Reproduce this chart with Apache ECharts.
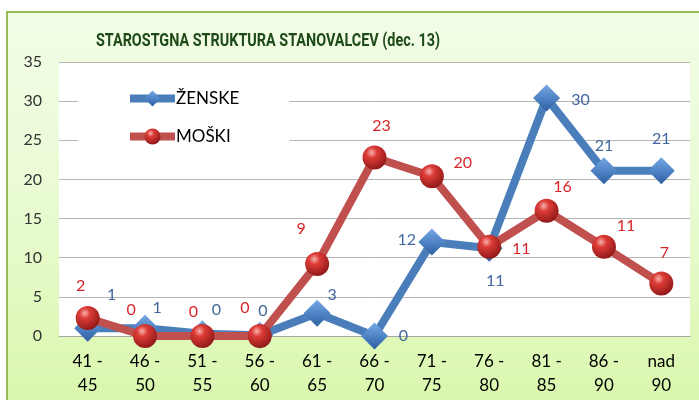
<!DOCTYPE html>
<html>
<head>
<meta charset="utf-8">
<script src="https://cdn.jsdelivr.net/npm/echarts@6/dist/echarts.min.js"></script>
<style>
  html, body { margin: 0; padding: 0; background: #fff; overflow: hidden; }
  #frame {
    position: absolute; left: 6px; top: 11px; width: 720px; height: 420px;
    border: 2px solid #9bbb59; box-sizing: border-box;
    background: linear-gradient(to bottom, #f2fde6 0%, #eafbd6 40%, #d9f7a8 100%);
  }
  #chart { position: absolute; left: 0; top: 0; width: 699px; height: 400px; }
</style>
</head>
<body>
<div id="frame"></div>
<div id="chart"></div>
<script>
  // ---- data ----
  const categories = ['41 -\n45', '46 -\n50', '51 -\n55', '56 -\n60', '61 -\n65', '66 -\n70',
    '71 -\n75', '76 -\n80', '81 -\n85', '86 -\n90', 'nad\n90'];
  const zenske = [1.0, 1.0, 0.3, 0.1, 2.9, 0, 12.0, 11.2, 30.4, 21.1, 21.1];
  const moski = [2.3, 0, 0, 0, 9.2, 22.8, 20.4, 11.4, 16.0, 11.4, 6.7];
  const yTicks = { min: 0, max: 35, interval: 5 };
  const titleText = 'STAROSTGNA STRUKTURA STANOVALCEV (dec. 13)';

  // label placement (Excel labels were dragged by hand)
  const zenskeLabelOff = [[24, -33], [12, -20], [14, -24], [3, -24], [15, -18], [29, 0],
    [-25, -2], [6, 33], [34, 2], [0, -25], [0, -32]];
  const moskiLabelOff = [[-7, -32], [-14, -26], [-9, -24], [-15, -28], [-16, -35], [7, -32],
    [31, -13], [32, 2], [16, -24], [22, -21], [3, -31]];

  const FONT = 'Lato, "Noto Sans", sans-serif';
  const BLUE = '#4a7ebb', RED = '#c0504d';

  const diamondFill = new echarts.graphic.LinearGradient(0, 0, 0, 1, [
    { offset: 0, color: '#78a8e4' },
    { offset: 0.5, color: '#4f84c6' },
    { offset: 1, color: '#2f5f9f' }
  ]);
  const ballFill = new echarts.graphic.RadialGradient(0.38, 0.3, 0.75, [
    { offset: 0, color: '#f7b0ad' },
    { offset: 0.3, color: '#dc3b36' },
    { offset: 1, color: '#8a1716' }
  ]);

  function withLabels(values, offs) {
    return values.map((v, i) => ({ value: v, label: { offset: offs[i] } }));
  }

  const chart = echarts.init(document.getElementById('chart'), null, { renderer: 'canvas' });
  chart.setOption({
    backgroundColor: 'transparent',
    animation: false,
    // title as graphic text so it can be squeezed like Calibri bold
    graphic: [{
      type: 'text',
      x: 268, y: 41,
      scaleX: 0.8,
      style: {
        text: titleText,
        fill: '#1d4a17',
        font: 'bold 18px Roboto, sans-serif',
        align: 'center', verticalAlign: 'middle'
      }
    }],
    legend: {
      orient: 'vertical',
      left: 78, top: 80,
      padding: [10, 50, 12, 48],
      backgroundColor: '#fff',
      itemWidth: 45, itemHeight: 20, itemGap: 21,
      lineStyle: { width: 8 },
      textStyle: { color: '#000', fontSize: 17, fontFamily: FONT, padding: [0, 0, 0, -4] },
      data: ['ŽENSKE', 'MOŠKI']
    },
    grid: {
      left: 59, right: 9, top: 62, bottom: 64,
      show: true, backgroundColor: '#fff', borderWidth: 0
    },
    xAxis: {
      type: 'category',
      data: categories,
      boundaryGap: true,
      axisLine: { lineStyle: { color: '#a6a6a6', width: 1 } },
      axisTick: { show: false },
      axisLabel: { color: '#000', fontSize: 17, fontFamily: FONT, lineHeight: 24, margin: 14, interval: 0 }
    },
    yAxis: {
      type: 'value',
      min: yTicks.min, max: yTicks.max, interval: yTicks.interval,
      axisLine: { show: false },
      axisTick: { show: false },
      splitLine: { lineStyle: { color: '#b5b5b5', width: 1 } },
      axisLabel: { color: '#333', fontSize: 16, fontFamily: FONT, margin: 17 }
    },
    series: [
      {
        name: 'ŽENSKE',
        type: 'line',
        data: withLabels(zenske, zenskeLabelOff),
        symbol: 'diamond', symbolSize: [27, 27],
        lineStyle: { color: BLUE, width: 8 },
        itemStyle: { color: diamondFill, borderWidth: 0 },
        label: {
          show: true, position: 'inside', align: 'center', verticalAlign: 'middle',
          color: '#41679d', fontSize: 16, fontFamily: FONT,
          formatter: p => Math.round(p.value)
        },
        z: 2
      },
      {
        name: 'MOŠKI',
        type: 'line',
        data: withLabels(moski, moskiLabelOff),
        symbol: 'circle', symbolSize: 24,
        lineStyle: { color: RED, width: 8 },
        itemStyle: { color: ballFill, borderWidth: 0 },
        label: {
          show: true, position: 'inside', align: 'center', verticalAlign: 'middle',
          color: '#d9262a', fontSize: 16, fontFamily: FONT,
          formatter: p => Math.round(p.value)
        },
        z: 3
      }
    ]
  });
</script>
</body>
</html>
